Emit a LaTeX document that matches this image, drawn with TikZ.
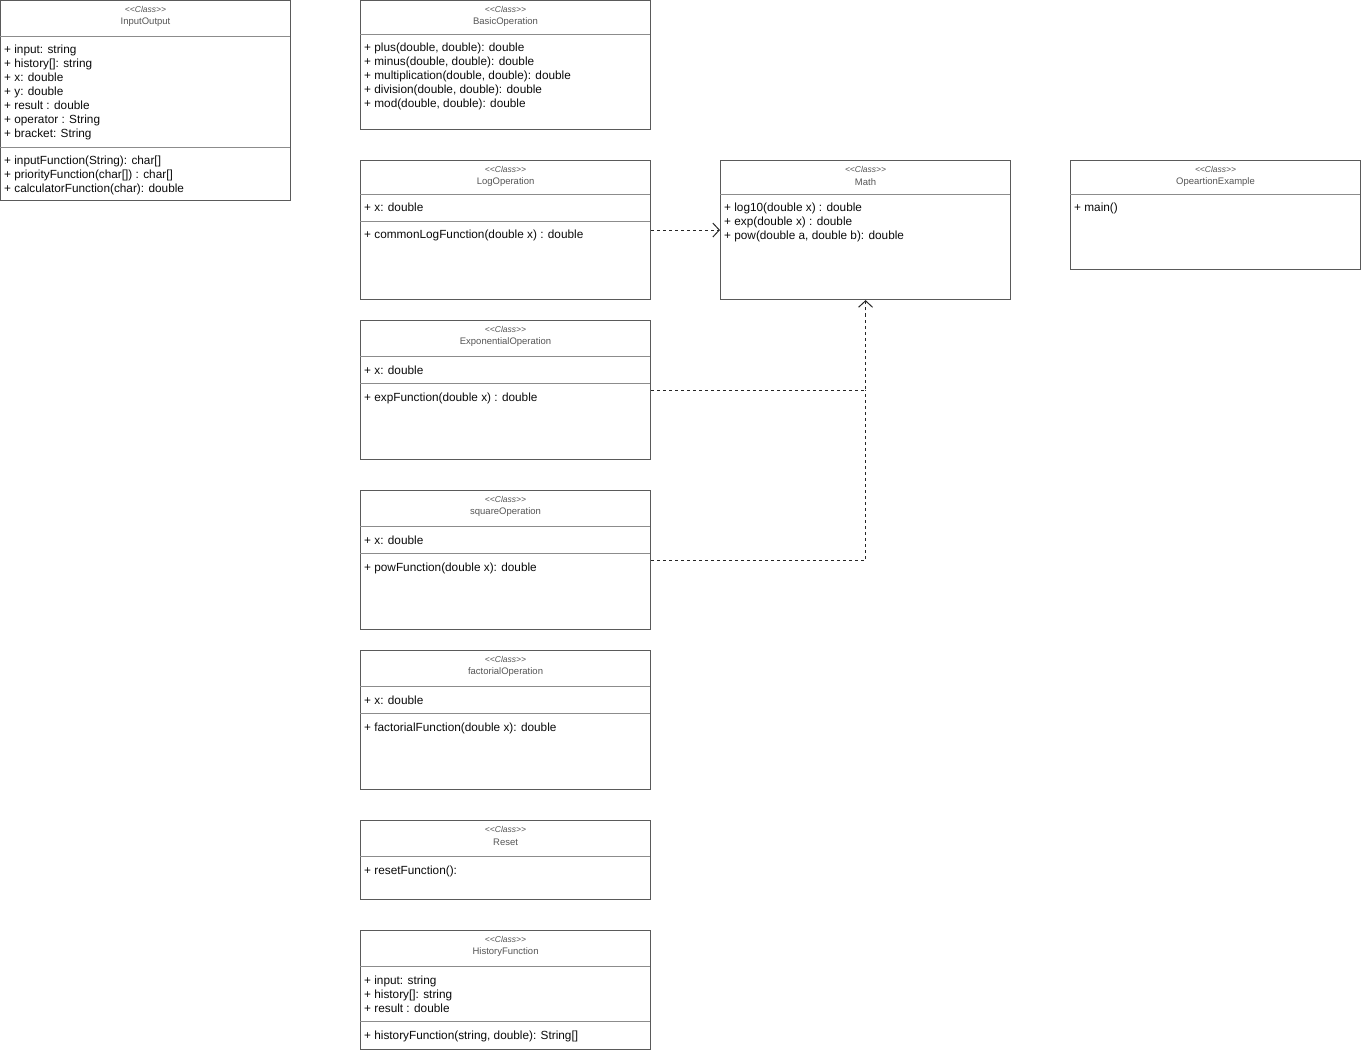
\documentclass[tikz,border=0pt]{standalone}
\usepackage{fontspec}
\setmainfont{Liberation Sans}
\usetikzlibrary{positioning,arrows.meta,calc}

\definecolor{boxline}{HTML}{5A5A5A}
\definecolor{sepgray}{HTML}{8C8C8C}
\definecolor{headtext}{HTML}{555555}
\definecolor{membertext}{HTML}{0A0A0A}

\begin{document}
\begin{tikzpicture}[x=1pt, y=-1pt]
% Definition of styles:
\tikzset{%
  classbox/.style = {draw=boxline, line width=1.1pt, rectangle, anchor=north west, minimum width=290pt, inner sep=0pt},
  stereo/.style   = {font=\fontsize{8.5}{10}\selectfont\itshape, text=headtext, inner sep=0pt},
  cname/.style    = {font=\fontsize{9.5}{11}\selectfont, text=headtext, inner sep=0pt},
  member/.style   = {font=\fontsize{11.8}{14}\selectfont, text=membertext, anchor=base west, align=left, inner sep=0pt},
  sepline/.style  = {draw=sepgray, line width=0.9pt},
  dep/.style      = {draw=black!85, line width=0.9pt, dash pattern=on 3pt off 3pt},
  deparrow/.style = {dep, -{Straight Barb[length=6.5pt, width=14pt, line width=1pt]}}
}
\useasboundingbox (0,0) rectangle (1361,1051);

% Class boxes
\node [classbox, minimum height=200pt] (io)     at (0,0)      {};
\node [classbox, minimum height=129pt] (basic)  at (360,0)    {};
\node [classbox, minimum height=139pt] (logop)  at (360,160)  {};
\node [classbox, minimum height=139pt] (mathcls) at (720,160) {};
\node [classbox, minimum height=109pt] (example) at (1070,160) {};
\node [classbox, minimum height=139pt] (expop)  at (360,320)  {};
\node [classbox, minimum height=139pt] (sqop)   at (360,490)  {};
\node [classbox, minimum height=139pt] (factop) at (360,650)  {};
\node [classbox, minimum height=79pt]  (reset)  at (360,820)  {};
\node [classbox, minimum height=119pt] (hist)   at (360,930)  {};

% Headers
\foreach \cls/\txt in {io/InputOutput, basic/BasicOperation, logop/LogOperation, mathcls/Math,
  example/OpeartionExample, expop/ExponentialOperation, sqop/squareOperation,
  factop/factorialOperation, reset/Reset, hist/HistoryFunction}{
  \node [stereo] at ($(\cls.north)+(0,9)$) {<{}<Class>{}>};
  \node [cname]  at ($(\cls.north)+(0,22)$) {\txt};
}

% Separators
\draw [sepline] (0,36) -- (290,36);
\draw [sepline] (0,147) -- (290,147);
\draw [sepline] (360,34) -- (650,34);
\draw [sepline] (360,194) -- (650,194);
\draw [sepline] (360,221) -- (650,221);
\draw [sepline] (720,194) -- (1010,194);
\draw [sepline] (1070,194) -- (1360,194);
\draw [sepline] (360,356) -- (650,356);
\draw [sepline] (360,383) -- (650,383);
\draw [sepline] (360,526) -- (650,526);
\draw [sepline] (360,553) -- (650,553);
\draw [sepline] (360,686) -- (650,686);
\draw [sepline] (360,713) -- (650,713);
\draw [sepline] (360,856) -- (650,856);
\draw [sepline] (360,966) -- (650,966);
\draw [sepline] (360,1021) -- (650,1021);

% Members (placed at the baseline of the last line)
\node [member] (io_attr) at (4,138) {+ input: string\\+ history[]: string\\+ x: double\\+ y: double\\+ result : double\\+ operator : String\\+ bracket: String};
\node [member] (io_meth) at (4,193) {+ inputFunction(String): char[]\\+ priorityFunction(char[]) : char[]\\+ calculatorFunction(char): double};
\node [member] (basic_meth) at (364,108) {+ plus(double, double): double\\+ minus(double, double): double\\+ multiplication(double, double): double\\+ division(double, double): double\\+ mod(double, double): double};
\node [member] (log_attr) at (364,212) {+ x: double};
\node [member] (log_meth) at (364,239) {+ commonLogFunction(double x) : double};
\node [member] (math_meth) at (724,240) {+ log10(double x) : double\\+ exp(double x) : double\\+ pow(double a, double b): double};
\node [member] (ex_meth) at (1074,212) {+ main()};
\node [member] (exp_attr) at (364,374) {+ x: double};
\node [member] (exp_meth) at (364,401) {+ expFunction(double x) : double};
\node [member] (sq_attr) at (364,544) {+ x: double};
\node [member] (sq_meth) at (364,571) {+ powFunction(double x): double};
\node [member] (fact_attr) at (364,704) {+ x: double};
\node [member] (fact_meth) at (364,731) {+ factorialFunction(double x): double};
\node [member] (reset_meth) at (364,874) {+ resetFunction():};
\node [member] (hist_attr) at (364,1012) {+ input: string\\+ history[]: string\\+ result : double};
\node [member] (hist_meth) at (364,1039) {+ historyFunction(string, double): String[]};

% Dependencies
\coordinate (join) at (mathcls.south |- expop.east);
\draw [deparrow] (logop.east) -- (mathcls.west);
\draw [deparrow] (expop.east) -| (mathcls.south);
\draw [dep] (sqop.east) -| (join);
%
\end{tikzpicture}
\end{document}
